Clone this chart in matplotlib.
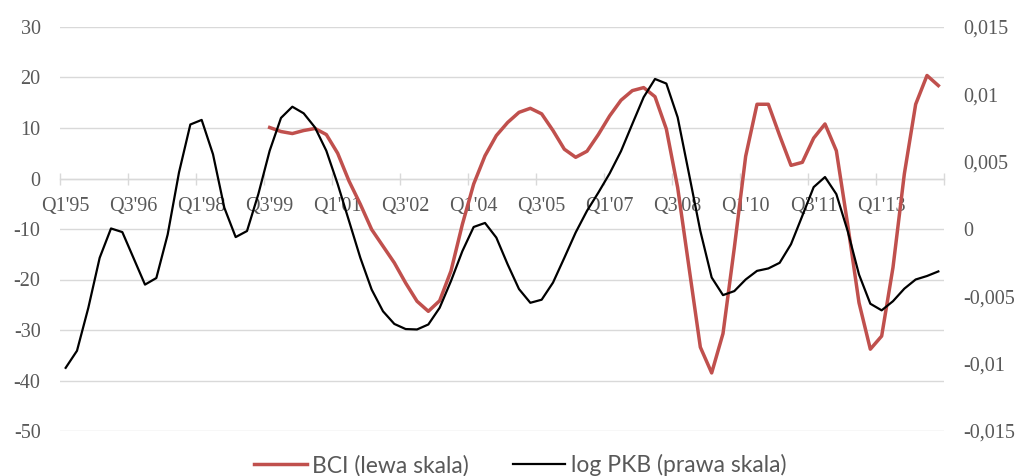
import matplotlib
matplotlib.use("Agg")
import matplotlib.pyplot as plt
from matplotlib.ticker import FixedLocator, FuncFormatter

# quarters Q1'95 .. Q2'14
quarters = [f"Q{q}'{y % 100:02d}" for y in range(1995, 2015) for q in range(1, 5)][:78]

# BCI (left scale), starts in Q3'99
bci_start = 18
bci = [10.1, 9.3, 8.9, 9.5, 9.9, 8.7, 5.0, -0.5, -5.1, -10.1,
       -13.4, -16.7, -20.7, -24.3, -26.3, -24.2, -18.3, -9.1, -1.1, 4.5,
       8.5, 11.1, 13.1, 13.9, 12.8, 9.5, 5.8, 4.2, 5.4, 8.7,
       12.4, 15.5, 17.4, 18.0, 16.2, 9.8, -1.8, -17.6, -33.4, -38.5,
       -30.7, -13.7, 4.4, 14.7, 14.7, 8.5, 2.6, 3.2, 8.0, 10.8,
       5.5, -9.1, -24.6, -33.8, -31.2, -17.6, 0.9, 14.7, 20.4, 18.4]

# log GDP cycle (right scale)
pkb = [-0.01031, -0.00904, -0.00585, -0.00214, 0.00004, -0.00023, -0.00218, -0.00413, -0.00364, -0.00041,
       0.00420, 0.00776, 0.00810, 0.00555, 0.00158, -0.00060, -0.00015, 0.00259, 0.00581, 0.00825,
       0.00908, 0.00859, 0.00754, 0.00581, 0.00334, 0.00060, -0.00214, -0.00450, -0.00611, -0.00705,
       -0.00743, -0.00746, -0.00709, -0.00585, -0.00386, -0.00165, 0.00015, 0.00045, -0.00064, -0.00263,
       -0.00446, -0.00548, -0.00525, -0.00398, -0.00214, -0.00026, 0.00135, 0.00270, 0.00413, 0.00578,
       0.00780, 0.00979, 0.01114, 0.01080, 0.00829, 0.00409, -0.00015, -0.00360, -0.00491, -0.00461,
       -0.00375, -0.00311, -0.00293, -0.00251, -0.00113, 0.00098, 0.00311, 0.00386, 0.00259, -0.00015,
       -0.00338, -0.00555, -0.00604, -0.00536, -0.00443, -0.00375, -0.00349, -0.00315]

left_ticks = [-50, -40, -30, -20, -10, 0, 10, 20, 30]
right_ticks = [-0.015, -0.01, -0.005, 0, 0.005, 0.01, 0.015]

grey = "#595959"
grid_c = "#D9D9D9"
serif = "Liberation Serif"
tick_fs = 14.5

fig = plt.figure(figsize=(10.22, 4.76), dpi=100)
ax = fig.add_axes([60 / 1022, 45 / 476, 884 / 1022, 404 / 476])
ax2 = ax.twinx()

x_all = list(range(len(pkb)))
x_bci = list(range(bci_start, bci_start + len(bci)))

l1, = ax.plot(x_bci, bci, color="#C0504D", lw=2.5, solid_joinstyle="round",
              label="BCI (lewa skala)", zorder=3)
l2, = ax2.plot(x_all, pkb, color="black", lw=1.6, label="log PKB (prawa skala)", zorder=3)

ax.set_xlim(-0.5, len(pkb) - 0.5)
ax.set_ylim(-50, 30)
ax2.set_ylim(-0.015, 0.015)

# left axis
ax.set_yticks(left_ticks)
ax.yaxis.set_major_formatter(FuncFormatter(lambda v, p: f"{v:g}"))
ax.grid(axis="y", color=grid_c, lw=1.0, zorder=0)
ax.set_axisbelow(True)

# category axis crossing at 0
ax.spines["bottom"].set_position(("data", 0))
ax.spines["bottom"].set_color(grid_c)
ax.spines["bottom"].set_linewidth(1.0)
for s in ["top", "left", "right"]:
    ax.spines[s].set_visible(False)
for s in ax2.spines.values():
    s.set_visible(False)

ax.set_xticks(x_all[::6])
ax.set_xticklabels(quarters[::6])
ax.xaxis.set_minor_locator(FixedLocator([i - 0.5 for i in range(0, len(pkb) + 1, 6)]))
ax.tick_params(axis="x", which="major", length=0, pad=13.5, labelsize=tick_fs, labelcolor=grey)
ax.tick_params(axis="x", which="minor", direction="inout", length=8, width=1.0, color=grid_c)
ax.tick_params(axis="y", length=0, pad=14, labelsize=tick_fs, labelcolor=grey)

ax2.set_yticks(right_ticks)
ax2.yaxis.set_major_formatter(FuncFormatter(lambda v, p: f"{v:g}".replace(".", ",")))
ax2.tick_params(axis="y", length=0, pad=14, labelsize=tick_fs, labelcolor=grey)

for lab in ax.get_xticklabels() + ax.get_yticklabels() + ax2.get_yticklabels():
    lab.set_family(serif)

leg = fig.legend(handles=[l1, l2], loc="center", bbox_to_anchor=(0.509, 0.023), ncol=2,
                 frameon=False, handlelength=2.3, handletextpad=0.25, columnspacing=1.9,
                 prop={"family": "Lato", "size": 16.5})
for t in leg.get_texts():
    t.set_color(grey)

fig.savefig("out.png", dpi=100)
